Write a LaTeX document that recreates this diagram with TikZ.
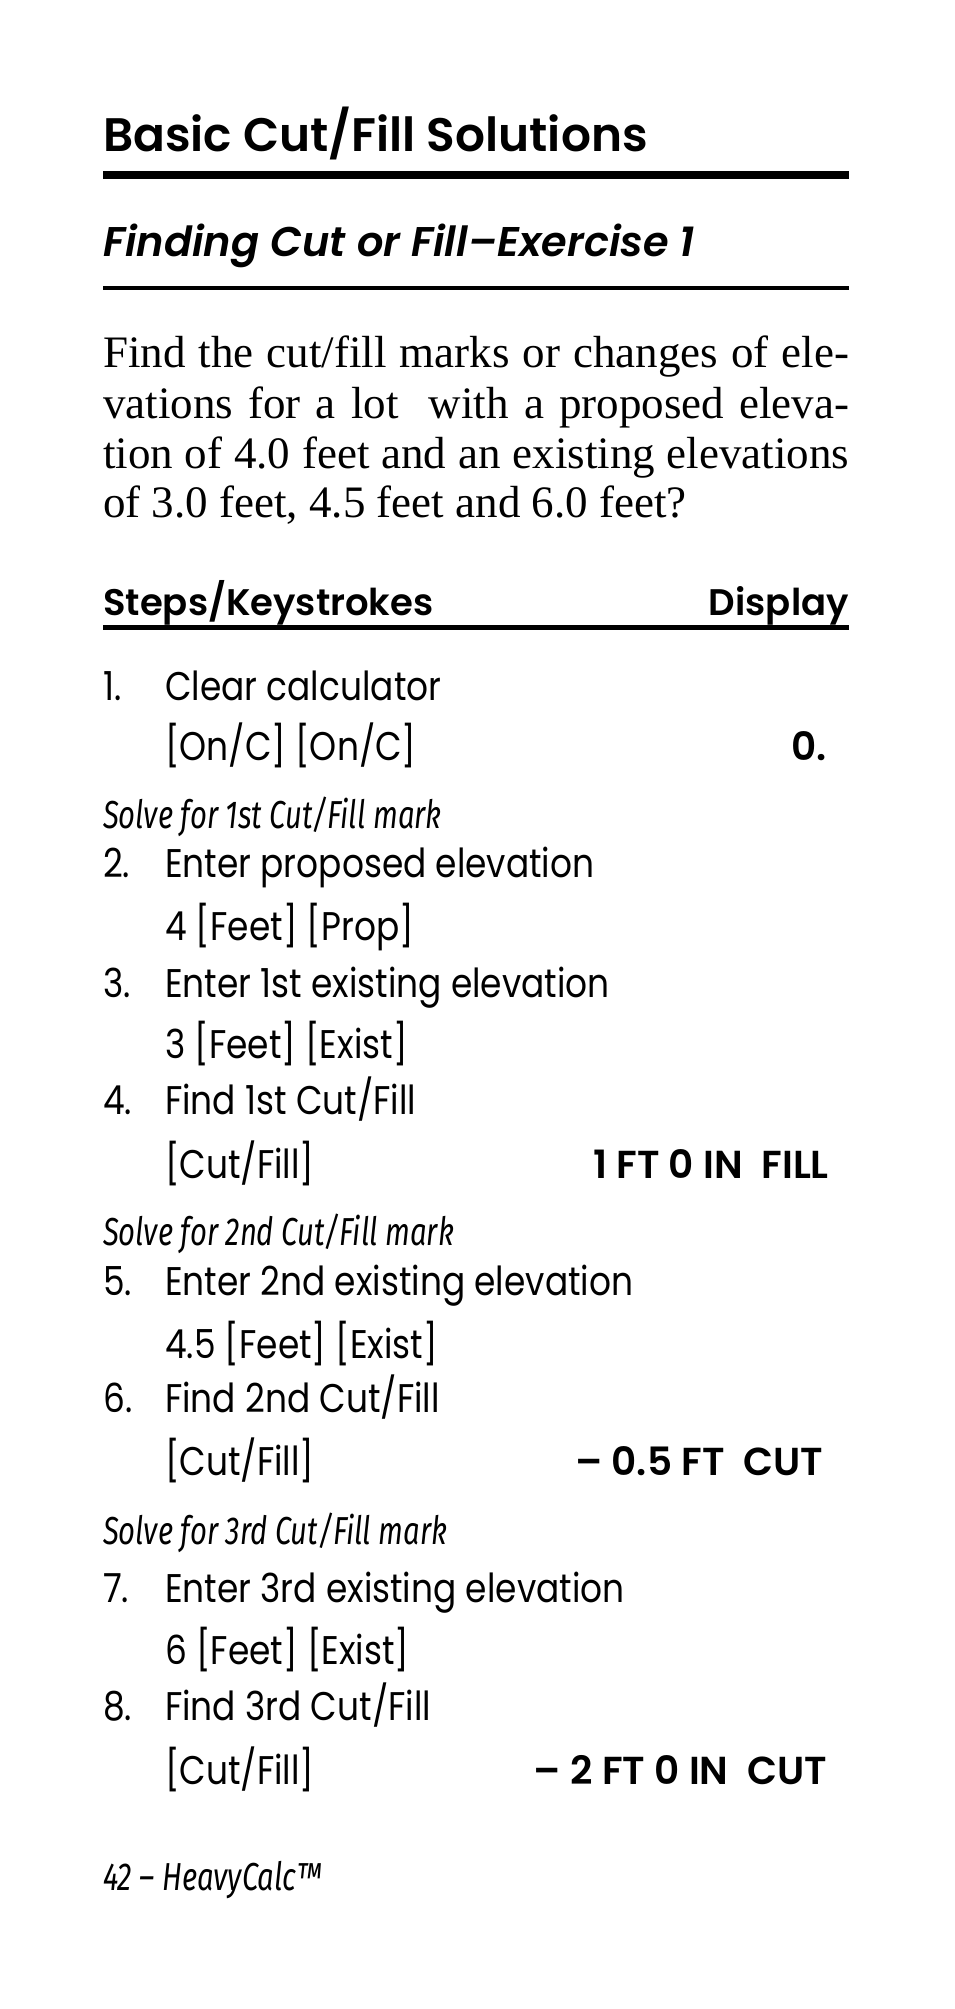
\documentclass[tikz,border=0pt]{standalone}
\usepackage{fontspec}
\setmainfont{Liberation Serif}
\newfontfamily\fut{Poppins}
\newfontfamily\futb{Poppins}[UprightFont=* SemiBold, ItalicFont=* SemiBold Italic]
\newfontfamily\futi{Fira Sans}[ItalicFont=* Italic]
\begin{document}
\begin{tikzpicture}[x=1pt,y=-1pt,
  tx/.style={anchor=base west,inner sep=0pt},
  tr/.style={anchor=base east,inner sep=0pt},
  item/.style={tx,font=\fut\fontsize{40}{40}\selectfont,xscale=0.86},
  disp/.style={tr,font=\futb\fontsize{39}{39}\selectfont},
  sub/.style={tx,font=\futi\itshape\fontsize{39}{39}\selectfont,xscale=0.75},
  par/.style={tx,font=\fontsize{45}{45}\selectfont}]
\useasboundingbox (0,0) rectangle (954,2009);
\node[tx,font=\futb\fontsize{47}{47}\selectfont] (title) at (103,152) {Basic Cut/Fill Solutions};
\fill (103,171) rectangle (849,179);
\node[tx,font=\futb\itshape\fontsize{41.5}{41.5}\selectfont] (subt) at (103,257) {Finding Cut or Fill–Exercise 1};
\fill (103,286) rectangle (849,290);
\node[par] (p1) at (103,367) {\makebox[746pt][s]{Find the cut/fill marks or changes of ele-}};
\node[par] (p2) at (103,418) {\makebox[746pt][s]{vations for a lot \ with a proposed eleva-}};
\node[par] (p3) at (103,468) {\makebox[746pt][s]{tion of 4.0 feet and an existing elevations}};
\node[par] (p4) at (103,517) {of 3.0 feet, 4.5 feet and 6.0 feet?};
\node[tx,font=\futb\fontsize{37}{37}\selectfont] (sk) at (103,615) {Steps/Keystrokes};
\node[tr,font=\futb\fontsize{37}{37}\selectfont] (dp) at (849,615) {Display};
\fill (103,625) rectangle (849,630);
\foreach \n/\y/\t in {1/700/{Clear calculator},2/877/{Enter proposed elevation},3/997/{Enter 1st existing elevation},4/1114/{Find 1st Cut/Fill},5/1295/{Enter 2nd existing elevation},6/1412/{Find 2nd Cut/Fill},7/1602/{Enter 3rd existing elevation},8/1720/{Find 3rd Cut/Fill}}{
  \node[item] (n\n) at (103,\y) {\n.};
  \node[item] (s\n) at (165,\y) {\t};
}
\node[item] (k1) at (165,760) {[On/C] [On/C]};
\node[item] (k2) at (165,940) {4 [Feet] [Prop]};
\node[item] (k3) at (165,1058) {3 [Feet] [Exist]};
\node[item] (k4) at (165,1178) {[Cut/Fill]};
\node[item] (k5) at (165,1358) {4.5 [Feet] [Exist]};
\node[item] (k6) at (165,1475) {[Cut/Fill]};
\node[item] (k7) at (165,1664) {6 [Feet] [Exist]};
\node[item] (k8) at (165,1784) {[Cut/Fill]};
\node[disp] (d1) at (827,760) {0.};
\node[disp] (d4) at (829,1178) {1 FT 0 IN\ \ FILL};
\node[disp] (d6) at (823,1475) {– 0.5 FT\ \ CUT};
\node[disp] (d8) at (827,1784) {– 2 FT 0 IN\ \ CUT};
\node[sub] (h1) at (103,828) {Solve for 1st Cut/Fill mark};
\node[sub] (h2) at (103,1245) {Solve for 2nd Cut/Fill mark};
\node[sub] (h3) at (103,1544) {Solve for 3rd Cut/Fill mark};
\node[sub] (ft) at (103,1890) {42 – HeavyCalc™};
\end{tikzpicture}
\end{document}
